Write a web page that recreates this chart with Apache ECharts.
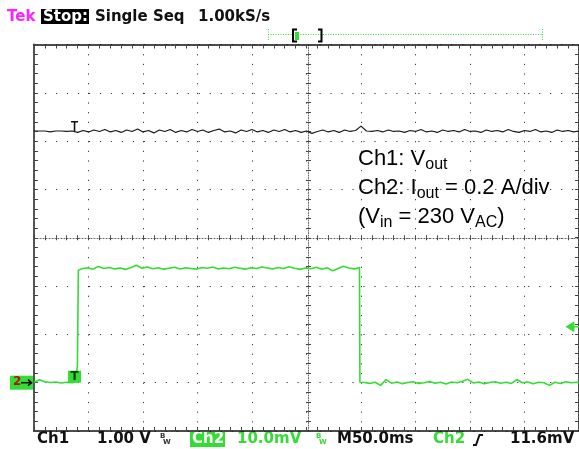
<!DOCTYPE html>
<html>
<head>
<meta charset="utf-8">
<script src="https://cdn.jsdelivr.net/npm/echarts@6/dist/echarts.min.js"></script>
<style>
  html, body { margin: 0; padding: 0; background: #fff; }
  #chartDom { width: 579px; height: 449px; }
</style>
</head>
<body>
<div id="chartDom"></div>
<script>
// Ch1: output voltage (1.00 V/div), ground marker at -3 div
const ch1TimeMs = [
  0, 5, 10, 15, 20, 25, 30, 35, 40, 45,
  50, 55, 60, 65, 70, 75, 80, 85, 90, 95,
  100, 105, 110, 115, 120, 125, 130, 135, 140, 145,
  150, 155, 160, 165, 170, 175, 180, 185, 190, 195,
  200, 205, 210, 215, 220, 225, 230, 235, 240, 245,
  250, 255, 260, 265, 270, 275, 280, 285, 290, 295,
  300, 305, 310, 315, 320, 325, 330, 335, 340, 345,
  350, 355, 360, 365, 370, 375, 380, 385, 390, 395,
  400, 405, 410, 415, 420, 425, 430, 435, 440, 445,
  450, 455, 460, 465, 470, 475, 480, 485, 490, 495,
  500
];
const ch1Volt = [
  5.21, 5.21, 5.21, 5.19, 5.21, 5.21, 5.20, 5.21, 5.18, 5.22,
  5.19, 5.23, 5.20, 5.24, 5.19, 5.22, 5.18, 5.23, 5.20, 5.25,
  5.19, 5.22, 5.17, 5.23, 5.20, 5.24, 5.18, 5.22, 5.19, 5.24,
  5.20, 5.23, 5.18, 5.22, 5.25, 5.19, 5.21, 5.17, 5.23, 5.20,
  5.24, 5.19, 5.22, 5.18, 5.23, 5.20, 5.24, 5.19, 5.22, 5.18,
  5.21, 5.16, 5.20, 5.23, 5.19, 5.22, 5.18, 5.23, 5.20, 5.22,
  5.31, 5.21, 5.20, 5.22, 5.19, 5.23, 5.20, 5.21, 5.18, 5.22,
  5.20, 5.24, 5.19, 5.21, 5.18, 5.23, 5.20, 5.22, 5.19, 5.24,
  5.20, 5.21, 5.18, 5.23, 5.20, 5.22, 5.19, 5.24, 5.20, 5.18,
  5.22, 5.20, 5.24, 5.19, 5.21, 5.18, 5.23, 5.20, 5.22, 5.19,
  5.21
];

// Ch2: output current (0.2 A/div), ground marker at -3 div
const ch2TimeMs = [
  0, 5, 10, 15, 20, 25, 30, 35, 38, 39.2, 39.8, 40.7,
  44, 49, 54, 59, 64, 69, 74, 79, 84, 89,
  94, 99, 104, 109, 114, 119, 124, 129, 134, 139,
  144, 149, 154, 159, 164, 169, 174, 179, 184, 189,
  194, 199, 204, 209, 214, 219, 224, 229, 234, 239,
  244, 249, 254, 259, 264, 269, 274, 279, 284, 289,
  294, 298.6,
  299.0, 303, 308, 313, 318, 323, 328, 333, 338, 343,
  348, 353, 358, 363, 368, 373, 378, 383, 388, 393,
  398, 403, 408, 413, 418, 423, 428, 433, 438, 443,
  448, 453, 458, 463, 468, 473, 478, 483, 488, 493,
  498, 500
];
const ch2Amp = [
  0.002, 0.012, 0.004, 0.001, 0.003, -0.001, 0.002, 0.000, 0.003, 0.008, 0.069, 0.466,
  0.472, 0.476, 0.470, 0.481, 0.473, 0.477, 0.471, 0.475, 0.469, 0.477,
  0.486, 0.474, 0.479, 0.472, 0.476, 0.470, 0.474, 0.478, 0.471, 0.476,
  0.473, 0.470, 0.477, 0.474, 0.479, 0.471, 0.475, 0.472, 0.478, 0.474,
  0.470, 0.476, 0.473, 0.479, 0.475, 0.471, 0.477, 0.473, 0.480, 0.474,
  0.469, 0.475, 0.472, 0.478, 0.470, 0.476, 0.463, 0.473, 0.482, 0.475,
  0.471, 0.477,
  0.002, 0.001, -0.003, 0.002, -0.011, 0.013, -0.002, 0.003, -0.004, 0.001,
  0.004, -0.003, 0.000, 0.005, -0.002, 0.002, -0.005, 0.003, 0.000, 0.006,
  0.014, -0.001, 0.003, -0.004, 0.001, 0.004, -0.002, 0.002, -0.003, 0.013,
  0.000, 0.003, -0.004, 0.002, 0.000, -0.011, 0.002, -0.003, 0.004, 0.000,
  0.002, 0.001
];

const triggerTimeMs = 37.2
const triggerLevelAmp = 0.232   // 11.6 mV on Ch2
const headerTexts = ['Tek', 'Stop:', 'Single Seq', '1.00kS/s']
const footerTexts = ['Ch1', '1.00 V', 'Ch2', '10.0mV', 'M50.0ms', 'Ch2', '11.6mV']

const GREEN = '#33dd33'
const HDR_FONT = 'bold 15px "DejaVu Sans"'
const DOT = '#3a3a3a'

const chart = echarts.init(document.getElementById('chartDom'))

function scopeAxis (extra) {
  return Object.assign({
    type: 'value',
    axisLabel: { show: false },
    axisLine: { onZero: false, lineStyle: { color: '#111', width: 1.5 } },
    axisTick: { inside: true, length: 4, lineStyle: { color: '#444', width: 1 } },
    minorTick: { show: true, splitNumber: 5, length: 4, lineStyle: { color: '#444', width: 1 } },
    splitLine: { show: false }
  }, extra)
}
const timeRange = { min: 0, max: 500, interval: 50 }
const ch1Range = { min: -1, max: 7, interval: 1 }

const option = {
  animation: false,
  backgroundColor: '#fff',
  grid: { left: 34, top: 44.5, width: 549, height: 386.5 },
  xAxis: [
    scopeAxis(Object.assign({
      position: 'bottom',
      splitLine: { show: true, lineStyle: { color: DOT, width: 1, type: [1.2, 8.46] } }
    }, timeRange)),
    scopeAxis(Object.assign({ position: 'top' }, timeRange)),
    // center horizontal line
    scopeAxis(Object.assign({
      position: 'bottom', offset: -193.25,
      axisLine: { onZero: false, lineStyle: { color: '#666', width: 1, type: [1, 2] } },
      axisTick: { inside: true, length: 2.5, lineStyle: { color: '#444' } },
      minorTick: { show: true, splitNumber: 5, length: 2.5, lineStyle: { color: '#444' } }
    }, timeRange)),
    scopeAxis(Object.assign({
      position: 'bottom', offset: -193.25,
      axisLine: { show: false, onZero: false },
      axisTick: { inside: false, length: 2.5, lineStyle: { color: '#444' } },
      minorTick: { show: true, splitNumber: 5, length: 2.5, lineStyle: { color: '#444' } }
    }, timeRange))
  ],
  yAxis: [
    scopeAxis(Object.assign({
      position: 'left',
      axisLine: { onZero: false, lineStyle: { color: '#555', width: 2 } },
      splitLine: { show: true, lineStyle: { color: DOT, width: 1, type: [1.2, 9.78] } }
    }, ch1Range)),
    scopeAxis({ position: 'right', min: -0.2, max: 1.4, interval: 0.2 }),
    // center vertical line
    scopeAxis(Object.assign({
      position: 'left', offset: -274.5,
      axisLine: { onZero: false, lineStyle: { color: '#666', width: 1, type: [1, 1.5] } },
      axisTick: { inside: true, length: 2.5, lineStyle: { color: '#444' } },
      minorTick: { show: true, splitNumber: 5, length: 2.5, lineStyle: { color: '#444' } }
    }, ch1Range)),
    scopeAxis(Object.assign({
      position: 'left', offset: -274.5,
      axisLine: { show: false, onZero: false },
      axisTick: { inside: false, length: 2.5, lineStyle: { color: '#444' } },
      minorTick: { show: true, splitNumber: 5, length: 2.5, lineStyle: { color: '#444' } }
    }, ch1Range))
  ],
  series: [
    {
      name: 'Ch1',
      type: 'line',
      xAxisIndex: 0,
      yAxisIndex: 0,
      symbol: 'none',
      data: ch1TimeMs.map((t, i) => [t, ch1Volt[i]]),
      lineStyle: { color: '#1a1a1a', width: 1.2 },
      markPoint: {
        silent: true,
        data: [{
          coord: [triggerTimeMs, ch1Volt[7]],
          symbol: 'path://M0,0H7V1.6H4.3V10H2.7V1.6H0Z',
          symbolSize: [7, 10],
          symbolOffset: [0, -5],
          itemStyle: { color: '#111' },
          label: { show: false }
        }]
      }
    },
    {
      name: 'Ch2',
      type: 'line',
      xAxisIndex: 0,
      yAxisIndex: 1,
      symbol: 'none',
      data: ch2TimeMs.map((t, i) => [t, ch2Amp[i]]),
      lineStyle: { color: GREEN, width: 1.6 },
      markPoint: {
        silent: true,
        data: [
          {
            coord: [triggerTimeMs, 0],
            symbol: 'rect',
            symbolSize: [13, 12],
            symbolOffset: [0, -6],
            itemStyle: { color: GREEN },
            label: { show: true, formatter: 'T', color: '#0d3d0d', fontWeight: 'bold', fontSize: 12, fontFamily: 'DejaVu Sans' }
          },
          {
            coord: [494, triggerLevelAmp],
            symbol: 'path://M0,5L9,0V4.3H14V5.7H9V10Z',
            symbolSize: [14, 11],
            itemStyle: { color: GREEN },
            label: { show: false }
          }
        ]
      }
    }
  ],
  graphic: [
    // header
    { type: 'text', style: { x: 7, y: 10, text: headerTexts[0], font: HDR_FONT, fill: '#ff22ff', verticalAlign: 'top', textVerticalAlign: 'top' } },
    { type: 'rect', shape: { x: 41, y: 9, width: 48, height: 15 }, style: { fill: '#000' } },
    { type: 'text', style: { x: 43, y: 10, text: headerTexts[1], font: HDR_FONT, fill: '#fff', verticalAlign: 'top', textVerticalAlign: 'top' } },
    { type: 'text', style: { x: 95, y: 10, text: headerTexts[2], font: HDR_FONT, fill: '#111', verticalAlign: 'top', textVerticalAlign: 'top' } },
    { type: 'text', style: { x: 198, y: 10, text: headerTexts[3], font: HDR_FONT, fill: '#111', verticalAlign: 'top', textVerticalAlign: 'top' } },
    // record indicator
    { type: 'line', shape: { x1: 268, y1: 34.5, x2: 543, y2: 34.5 }, style: { stroke: GREEN, lineWidth: 1, lineDash: [1, 1.5] } },
    { type: 'line', shape: { x1: 268.5, y1: 29, x2: 268.5, y2: 40 }, style: { stroke: GREEN, lineWidth: 1, lineDash: [1, 1.5] } },
    { type: 'line', shape: { x1: 542.5, y1: 29, x2: 542.5, y2: 40 }, style: { stroke: GREEN, lineWidth: 1, lineDash: [1, 1.5] } },
    { type: 'rect', shape: { x: 295, y: 32, width: 4, height: 8 }, style: { fill: GREEN } },
    { type: 'polyline', shape: { points: [[297, 29.5], [293, 29.5], [293, 41.5], [297, 41.5]] }, style: { stroke: '#000', lineWidth: 2, fill: null } },
    { type: 'polyline', shape: { points: [[318, 29.5], [321.5, 29.5], [321.5, 41.5], [318, 41.5]] }, style: { stroke: '#000', lineWidth: 2, fill: null } },
    // annotation
    {
      type: 'text',
      style: {
        x: 358, y: 144,
        text: '{m|Ch1: V}{s|out}\n{m|Ch2: I}{s|out}{m| = 0.2 A/div}\n{m|(V}{s|in}{m| = 230 V}{s|AC}{m|)}',
        fill: '#000',
        verticalAlign: 'top', textVerticalAlign: 'top',
        rich: {
          m: { fontSize: 22, fontFamily: 'Liberation Sans', lineHeight: 29, fill: '#000' },
          s: { fontSize: 16, fontFamily: 'Liberation Sans', lineHeight: 16, verticalAlign: 'bottom', fill: '#000' }
        }
      }
    },
    // footer
    { type: 'text', style: { x: 37, y: 432, text: footerTexts[0], font: HDR_FONT, fill: '#111', verticalAlign: 'top', textVerticalAlign: 'top' } },
    { type: 'text', style: { x: 97, y: 432, text: footerTexts[1], font: HDR_FONT, fill: '#111', verticalAlign: 'top', textVerticalAlign: 'top' } },
    { type: 'text', style: { x: 160, y: 433, text: 'B', font: 'bold 7px "DejaVu Sans"', fill: '#333', verticalAlign: 'top', textVerticalAlign: 'top' } },
    { type: 'text', style: { x: 163, y: 439, text: 'W', font: 'bold 7px "DejaVu Sans"', fill: '#333', verticalAlign: 'top', textVerticalAlign: 'top' } },
    { type: 'rect', shape: { x: 190, y: 432, width: 35, height: 15 }, style: { fill: GREEN } },
    { type: 'text', style: { x: 192, y: 432, text: footerTexts[2], font: HDR_FONT, fill: '#fff', verticalAlign: 'top', textVerticalAlign: 'top' } },
    { type: 'text', style: { x: 237, y: 432, text: footerTexts[3], font: HDR_FONT, fill: GREEN, verticalAlign: 'top', textVerticalAlign: 'top' } },
    { type: 'text', style: { x: 316, y: 433, text: 'B', font: 'bold 7px "DejaVu Sans"', fill: GREEN, verticalAlign: 'top', textVerticalAlign: 'top' } },
    { type: 'text', style: { x: 319, y: 439, text: 'W', font: 'bold 7px "DejaVu Sans"', fill: GREEN, verticalAlign: 'top', textVerticalAlign: 'top' } },
    { type: 'text', style: { x: 337, y: 432, text: footerTexts[4], font: HDR_FONT, fill: '#111', verticalAlign: 'top', textVerticalAlign: 'top' } },
    { type: 'text', style: { x: 433, y: 432, text: footerTexts[5], font: HDR_FONT, fill: GREEN, verticalAlign: 'top', textVerticalAlign: 'top' } },
    { type: 'polyline', shape: { points: [[473, 445], [476, 445], [479.5, 435], [483, 435]] }, style: { stroke: '#111', lineWidth: 2, fill: null } },
    { type: 'text', style: { x: 510, y: 432, text: footerTexts[6], font: HDR_FONT, fill: '#111', verticalAlign: 'top', textVerticalAlign: 'top' } }
  ]
}
chart.setOption(option)

// ground reference marker for Ch1/Ch2, placed through the Ch2 axis
const groundY = chart.convertToPixel({ yAxisIndex: 1 }, 0)
chart.setOption({
  graphic: option.graphic.concat([
    { type: 'rect', shape: { x: 10, y: groundY - 7, width: 23, height: 14 }, style: { fill: GREEN } },
    { type: 'text', style: { x: 13, y: groundY - 6.5, text: '2', font: 'bold 12px "DejaVu Sans"', fill: '#b01010', verticalAlign: 'top', textVerticalAlign: 'top' } },
    { type: 'polyline', shape: { points: [[21, groundY], [31, groundY]] }, style: { stroke: '#000', lineWidth: 1.5 } },
    { type: 'polyline', shape: { points: [[28, groundY - 3], [31.5, groundY], [28, groundY + 3]] }, style: { stroke: '#000', lineWidth: 1.5, fill: null } }
  ])
})
</script>
</body>
</html>
